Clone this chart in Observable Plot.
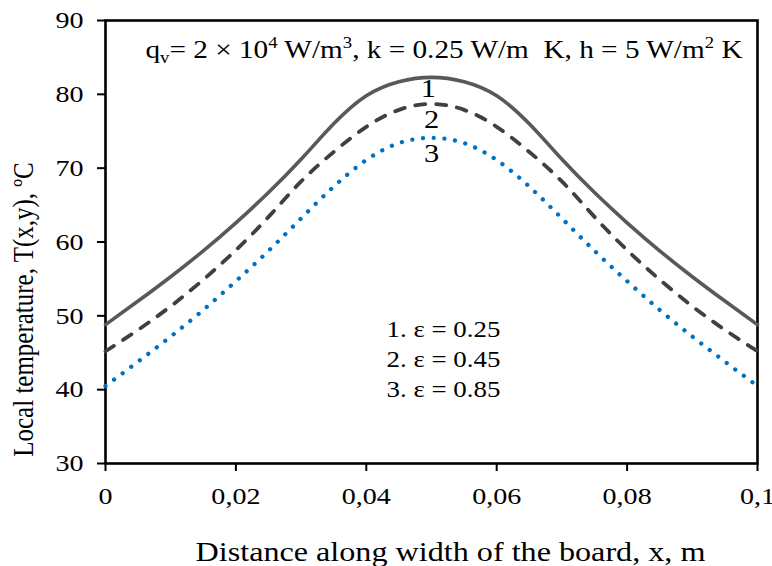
<!DOCTYPE html>
<html>
<head>
<meta charset="utf-8">
<script src="https://cdn.jsdelivr.net/npm/d3@7"></script>
<script src="https://cdn.jsdelivr.net/npm/@observablehq/plot@0.6"></script>
<style>
  html, body { margin: 0; padding: 0; background: #fff; }
  #chart { width: 772px; height: 566px; }
</style>
</head>
<body>
<div id="chart"></div>
<script>
// ---- data ----
const xPos = [0, 0.005, 0.01, 0.015, 0.02, 0.025, 0.03, 0.035, 0.04, 0.045, 0.05,
              0.055, 0.06, 0.065, 0.07, 0.075, 0.08, 0.085, 0.09, 0.095, 0.1];
const tEps025 = [48.8, 52.0, 55.3, 58.8, 62.6, 66.7, 71.2, 76.0, 79.8, 81.7, 82.3,
                 81.7, 79.8, 76.0, 71.2, 66.7, 62.6, 58.8, 55.3, 52.0, 48.8];
const tEps045 = [45.2, 48.1, 51.3, 54.9, 58.9, 63.4, 68.2, 72.2, 75.6, 77.9, 78.7,
                 77.9, 75.6, 72.2, 68.2, 63.4, 58.9, 54.9, 51.3, 48.1, 45.2];
const tEps085 = [40.5, 43.8, 47.2, 50.8, 54.7, 58.8, 63.2, 67.5, 71.1, 73.4, 74.1,
                 73.4, 71.1, 67.5, 63.2, 58.8, 54.7, 50.8, 47.2, 43.8, 40.5];
const seriesNames = ["1", "2", "3"];
const xTicks = [0, 0.02, 0.04, 0.06, 0.08, 0.1];
const xTickLabels = ["0", "0,02", "0,04", "0,06", "0,08", "0,1"];
const yTicks = [30, 40, 50, 60, 70, 80, 90];
const yTickLabels = ["30", "40", "50", "60", "70", "80", "90"];
const legendLines = ["1. ε = 0.25", "2. ε = 0.45", "3. ε = 0.85"];
const curveLabelX = [0.0495, 0.0500, 0.0500];
const curveLabelY = [80.72, 76.53, 71.93];
const xTitle = "Distance along width of the board, x, m";
const yTitle = "Local temperature, T(x,y), ºC";
const annotParts = [["q", ""], ["v", "sub"], ["= 2 × 10", ""], ["4", "sup"], [" W/m", ""], ["3", "sup"],
                    [", k = 0.25 W/m  K, h = 5 W/m", ""], ["2", "sup"], [" K", ""]];

// ---- table ----
const rows = [];
[tEps025, tEps045, tEps085].forEach((arr, si) => {
  arr.forEach((t, i) => rows.push({x: xPos[i], T: t, s: seriesNames[si]}));
});
const bySeries = k => rows.filter(r => r.s === k);
const annotText = annotParts.map(p => p[0]).join("");

const font = "'Liberation Serif', 'Times New Roman', serif";

const svg = Plot.plot({
  width: 772,
  height: 566,
  marginLeft: 105,
  marginRight: 15,
  marginTop: 20,
  marginBottom: 103,
  style: {fontFamily: font, fontSize: "24px", color: "#000", background: "#fff", overflow: "visible"},
  x: {domain: [0, 0.1]},
  y: {domain: [30, 90]},
  marks: [
    Plot.frame({stroke: "#000", strokeWidth: 2.6}),
    Plot.axisX({ticks: xTicks, tickFormat: d => xTickLabels[xTicks.indexOf(d)], tickSize: 8, tickPadding: 15,
                fontSize: 24, label: null, strokeWidth: 2, stroke: "#000", fill: "#000"}),
    Plot.axisY({ticks: yTicks, tickFormat: d => yTickLabels[yTicks.indexOf(d)], tickSize: 8, tickPadding: 14,
                fontSize: 24, label: null, strokeWidth: 2, stroke: "#000", fill: "#000"}),
    Plot.line(bySeries("1"), {x: "x", y: "T", stroke: "#595959", strokeWidth: 3.6, curve: "natural"}),
    Plot.line(bySeries("2"), {x: "x", y: "T", stroke: "#404040", strokeWidth: 3.8, curve: "natural",
                              strokeDasharray: "10,11", strokeLinecap: "round"}),
    Plot.line(bySeries("3"), {x: "x", y: "T", stroke: "#0070C0", strokeWidth: 4.3, curve: "natural",
                              strokeDasharray: "0.01,10.7", strokeLinecap: "round"}),
    Plot.text(seriesNames, {x: (d, i) => curveLabelX[i], y: (d, i) => curveLabelY[i], text: d => d,
                            fontSize: 26, fill: "#000", textAnchor: "middle", lineAnchor: "middle"}),
    ...legendLines.map((t, i) => Plot.text([t], {frameAnchor: "top-left", dx: 338, dy: 309.6 + 30 * i,
                            fontSize: 23, fill: "#000", textAnchor: "middle", lineAnchor: "middle"})),
    Plot.text([annotText], {frameAnchor: "top-left", dx: 40, dy: 29, fontSize: 25, fill: "#000",
                            textAnchor: "start", lineAnchor: "middle"}),
    Plot.text([xTitle], {frameAnchor: "bottom", dx: 19, dy: 88.5, fontSize: 27.5, fill: "#000",
                         textAnchor: "middle", lineAnchor: "middle"}),
    Plot.text([yTitle], {frameAnchor: "left", dx: -81.4, dy: 67.5, rotate: -90, fontSize: 25, fill: "#000",
                         textAnchor: "middle", lineAnchor: "middle"})
  ]
});

// rich text for the annotation (subscript / superscripts)
d3.select(svg).selectAll("text").filter(function () { return this.textContent === annotText; })
  .each(function () {
    const el = d3.select(this);
    el.text(null).style("white-space", "pre");
    let shift = 0;
    annotParts.forEach(([str, kind]) => {
      const target = kind === "sup" ? -10 : kind === "sub" ? 5 : 0;
      const ts = el.append("tspan").text(str).attr("dy", target - shift);
      if (kind) ts.attr("font-size", "16px");
      shift = target;
    });
  });

// reference text is horizontally stretched
const S = 1.17;
d3.select(svg).selectAll("text").each(function () {
  let t = this.getAttribute("transform") || "";
  const x = this.getAttribute("x"), y = this.getAttribute("y");
  if (x !== null && x !== "" && !isNaN(+x)) { t += ` translate(${+x},0)`; this.removeAttribute("x"); }
  if (y !== null && y !== "" && !isNaN(+y)) { t += ` translate(0,${+y})`; this.removeAttribute("y"); }
  t += /rotate\(\s*-?90/.test(t) ? ` scale(1,${S})` : ` scale(${S},1)`;
  this.setAttribute("transform", t.trim());
});

document.getElementById("chart").appendChild(svg);
</script>
</body>
</html>
